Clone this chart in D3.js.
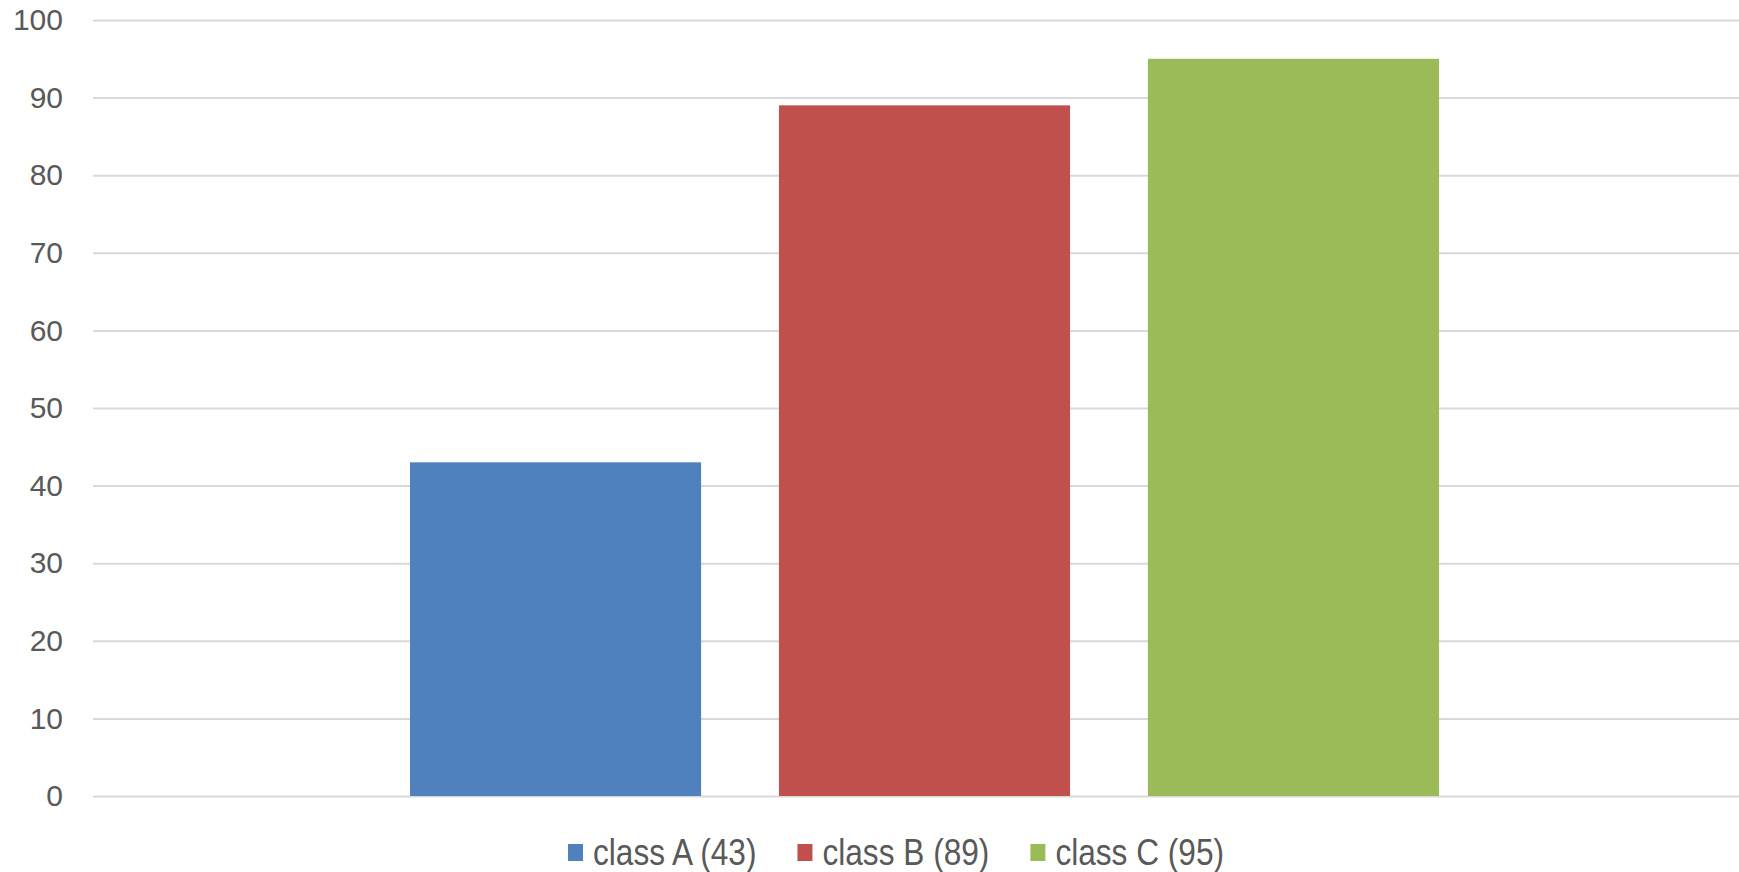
<!DOCTYPE html>
<html>
<head>
<meta charset="utf-8">
<script src="https://cdn.jsdelivr.net/npm/d3@7"></script>
<style>
  body { margin: 0; background: #fff; }
  svg { display: block; font-family: "Liberation Sans", Arial, sans-serif; }
</style>
</head>
<body>
<script>
var categories = ["class A (43)", "class B (89)", "class C (95)"];
var values = [43, 89, 95];
var colors = ["#4f81bd", "#c0504d", "#9bbb59"];
var yTicks = [0, 10, 20, 30, 40, 50, 60, 70, 80, 90, 100];

var width = 1739, height = 872;
var margin = { top: 20, right: 0, bottom: 76, left: 93 };

var svg = d3.select("body").append("svg")
  .attr("width", width)
  .attr("height", height);

var y = d3.scaleLinear()
  .domain([0, 100])
  .range([height - margin.bottom, margin.top]);

var x = d3.scaleBand()
  .domain(categories)
  .range([410, 1439])
  .paddingInner(0.211)
  .paddingOuter(0);

var yAxis = d3.axisLeft(y)
  .tickValues(yTicks)
  .tickSize(-(width - margin.left - margin.right))
  .tickPadding(30);

var gy = svg.append("g")
  .attr("transform", "translate(" + margin.left + ",0)")
  .call(yAxis);

gy.select(".domain").remove();
gy.selectAll(".tick line")
  .attr("stroke", "#d9d9d9")
  .attr("stroke-width", 2);
gy.selectAll(".tick text")
  .attr("fill", "#595959")
  .attr("font-size", 30)
  .attr("font-family", "Liberation Sans, Arial, sans-serif");

svg.selectAll(".bar")
  .data(values)
  .enter().append("rect")
  .attr("class", "bar")
  .attr("x", function (d, i) { return x(categories[i]); })
  .attr("width", x.bandwidth())
  .attr("y", function (d) { return y(d); })
  .attr("height", function (d) { return y(0) - y(d); })
  .attr("fill", function (d, i) { return colors[i]; });

// legend, text is drawn a bit narrow like the original
var squeeze = 0.855;
var lx = 568;
categories.forEach(function (c, i) {
  var g = svg.append("g")
    .attr("class", "legend")
    .attr("transform", "translate(" + lx + ",844)");
  g.append("rect")
    .attr("width", 15)
    .attr("height", 17)
    .attr("fill", colors[i]);
  var t = g.append("text")
    .attr("transform", "translate(25,21) scale(" + squeeze + ",1)")
    .attr("fill", "#595959")
    .attr("font-size", 37)
    .text(c);
  lx += 25 + t.node().getComputedTextLength() * squeeze + 41;
});
</script>
</body>
</html>
